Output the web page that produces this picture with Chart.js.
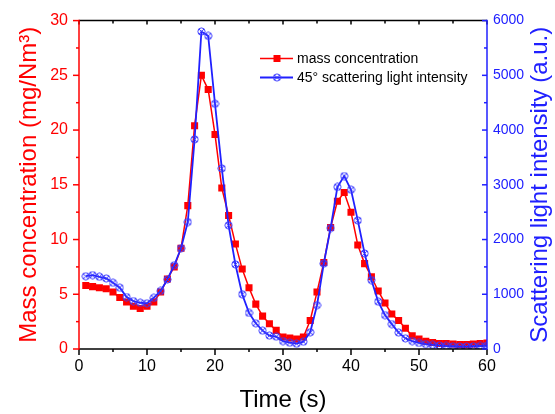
<!DOCTYPE html>
<html>
<head>
<meta charset="utf-8">
<script src="https://cdn.jsdelivr.net/npm/chart.js@4/dist/chart.umd.min.js"></script>
<style>
  html, body { margin: 0; padding: 0; background: #fff; }
</style>
</head>
<body>
<canvas id="chartMassLight" width="555" height="414"></canvas>
<script>
// ====================================
// DATA
// ====================================

const timeSec = [
  1, 2, 3, 4, 5, 6, 7, 8, 9, 10,
  11, 12, 13, 14, 15, 16, 17, 18, 19, 20,
  21, 22, 23, 24, 25, 26, 27, 28, 29, 30,
  31, 32, 33, 34, 35, 36, 37, 38, 39, 40,
  41, 42, 43, 44, 45, 46, 47, 48, 49, 50,
  51, 52, 53, 54, 55, 56, 57, 58, 59, 60
];

// mass concentration (mg/Nm3)
const massConc = [
  5.8, 5.7, 5.6, 5.5, 5.2, 4.7, 4.3, 3.9, 3.7, 3.9,
  4.3, 5.2, 6.4, 7.5, 9.2, 13.1, 20.4, 25.0, 23.7, 19.6,
  14.7, 12.2, 9.6, 7.3, 5.6, 4.1, 3.0, 2.3, 1.7, 1.1,
  1.0, 0.9, 1.1, 2.6, 5.2, 7.9, 11.1, 13.5, 14.3, 12.5,
  9.5, 7.8, 6.6, 5.3, 4.2, 3.2, 2.6, 1.9, 1.2, 0.9,
  0.7, 0.6, 0.5, 0.5, 0.45, 0.4, 0.4, 0.45, 0.5, 0.55
];

// 45 deg scattering light intensity (a.u.)
const lightInt = [
  1330, 1350, 1320, 1290, 1210, 1120, 950, 875, 845, 835,
  935, 1060, 1270, 1530, 1840, 2320, 3830, 5800, 5720, 4480,
  3300, 2260, 1545, 1000, 660, 470, 335, 245, 225, 145,
  115, 97, 133, 305, 800, 1560, 2210, 2960, 3160, 2910,
  2350, 1745, 1260, 865, 620, 455, 300, 195, 145, 110,
  90, 75, 65, 55, 50, 45, 45, 50, 55, 60
];

// TICKS
const xTicks = [0, 10, 20, 30, 40, 50, 60];
const xMinorTicks = [5, 15, 25, 35, 45, 55];
const massTicks = [0, 5, 10, 15, 20, 25, 30];
const massMinorTicks = [2.5, 7.5, 12.5, 17.5, 22.5, 27.5];
const lightTicks = [0, 1000, 2000, 3000, 4000, 5000, 6000];
const lightMinorTicks = [500, 1500, 2500, 3500, 4500, 5500];

const RED = "#ff0000";
const BLUE = "#2020ff";

// ====================================
// MARKER (circle with x)
// ====================================

function crossCircle() {
  const c = document.createElement("canvas");
  c.width = 9;
  c.height = 9;
  const g = c.getContext("2d");
  g.strokeStyle = "#3a3aff";
  g.lineWidth = 1;
  g.beginPath();
  g.arc(4.5, 4.5, 3.6, 0, Math.PI * 2);
  g.stroke();
  g.beginPath();
  g.moveTo(2, 2); g.lineTo(7, 7);
  g.moveTo(7, 2); g.lineTo(2, 7);
  g.stroke();
  return c;
}
const blueMarker = crossCircle();

// ====================================
// FRAME, TICKS, LEGEND, RIGHT TITLE
// ====================================

function seg(ctx, x1, y1, x2, y2) {
  ctx.beginPath();
  ctx.moveTo(x1, y1);
  ctx.lineTo(x2, y2);
  ctx.stroke();
}

const framePlugin = {
  id: "framePlugin",
  afterDatasetsDraw(chart) {
    const ctx = chart.ctx;
    const a = chart.chartArea;
    const sx = chart.scales.x;
    const sm = chart.scales.yMass;
    const sl = chart.scales.yLight;

    ctx.save();
    ctx.lineWidth = 1.5;
    ctx.lineCap = "butt";

    // top / bottom
    ctx.strokeStyle = "#000";
    seg(ctx, a.left, a.top, a.right, a.top);
    seg(ctx, a.left, a.bottom, a.right, a.bottom);
    xTicks.forEach(v => {
      const p = sx.getPixelForValue(v);
      seg(ctx, p, a.bottom, p, a.bottom + 6);
      seg(ctx, p, a.top, p, a.top + 4);
    });
    xMinorTicks.forEach(v => {
      const p = sx.getPixelForValue(v);
      seg(ctx, p, a.bottom, p, a.bottom + 3);
      seg(ctx, p, a.top, p, a.top + 3);
    });

    // left axis
    ctx.strokeStyle = RED;
    seg(ctx, a.left, a.top - 0.75, a.left, a.bottom + 0.75);
    massTicks.forEach(v => {
      const p = sm.getPixelForValue(v);
      seg(ctx, a.left, p, a.left - 6, p);
    });
    massMinorTicks.forEach(v => {
      const p = sm.getPixelForValue(v);
      seg(ctx, a.left, p, a.left - 3, p);
    });

    // right axis
    ctx.strokeStyle = BLUE;
    seg(ctx, a.right, a.top - 0.75, a.right, a.bottom + 0.75);
    lightTicks.forEach(v => {
      const p = sl.getPixelForValue(v);
      seg(ctx, a.right, p, a.right - 5, p);
    });
    lightMinorTicks.forEach(v => {
      const p = sl.getPixelForValue(v);
      seg(ctx, a.right, p, a.right - 3, p);
    });

    // legend
    ctx.strokeStyle = RED;
    seg(ctx, 260, 58.5, 293, 58.5);
    ctx.fillStyle = RED;
    ctx.fillRect(273.5, 55, 7, 7);
    ctx.strokeStyle = BLUE;
    ctx.lineWidth = 1.8;
    seg(ctx, 260, 77.5, 293, 77.5);
    ctx.drawImage(blueMarker, 272.5, 73);

    ctx.fillStyle = "#000";
    ctx.font = "14px 'Liberation Sans', Arial, sans-serif";
    ctx.textAlign = "left";
    ctx.textBaseline = "alphabetic";
    ctx.fillText("mass concentration", 297, 63);
    ctx.fillText("45° scattering light intensity", 297, 82);

    // right title (reads bottom to top)
    ctx.fillStyle = BLUE;
    ctx.font = "24px 'Liberation Sans', Arial, sans-serif";
    ctx.textAlign = "center";
    ctx.translate(547, (a.top + a.bottom) / 2);
    ctx.rotate(-Math.PI / 2);
    ctx.fillText("Scattering light intensity (a.u.)", 0, 0);

    ctx.restore();
  }
};

// ====================================
// CHART
// ====================================

const canvas = document.getElementById("chartMassLight");

new Chart(canvas, {
  type: "line",
  data: {
    labels: timeSec,
    datasets: [
      {
        label: "45° scattering light intensity",
        data: timeSec.map((t, i) => ({ x: t, y: lightInt[i] })),
        yAxisID: "yLight",
        borderColor: BLUE,
        borderWidth: 1.8,
        pointStyle: blueMarker,
        pointRadius: 4,
        tension: 0,
        order: 0
      },
      {
        label: "mass concentration",
        data: timeSec.map((t, i) => ({ x: t, y: massConc[i] })),
        yAxisID: "yMass",
        borderColor: RED,
        backgroundColor: RED,
        borderWidth: 1.5,
        pointStyle: "rect",
        pointRadius: 5,
        pointBorderWidth: 0,
        tension: 0,
        order: 1
      }
    ]
  },
  options: {
    responsive: false,
    animation: false,
    layout: {
      padding: { top: 20, left: 0, right: 0, bottom: 0 }
    },
    plugins: {
      legend: { display: false },
      tooltip: { enabled: false }
    },
    scales: {
      x: {
        type: "linear",
        position: "bottom",
        min: 0,
        max: 60,
        afterBuildTicks: s => { s.ticks = xTicks.map(v => ({ value: v })); },
        afterFit: s => { s.height = 65; },
        grid: { display: false, drawTicks: false },
        border: { display: false },
        ticks: {
          color: "#000",
          padding: 8,
          font: { family: "'Liberation Sans', Arial", size: 16 },
          callback: v => String(v)
        },
        title: {
          display: true,
          text: "Time (s)",
          color: "#000",
          padding: { top: 0, bottom: -1 },
          font: { family: "'Liberation Sans', Arial", size: 24 }
        }
      },
      yMass: {
        type: "linear",
        position: "left",
        min: 0,
        max: 30,
        afterBuildTicks: s => { s.ticks = massTicks.map(v => ({ value: v })); },
        afterFit: s => { s.width = 79; },
        grid: { display: false, drawTicks: false },
        border: { display: false },
        ticks: {
          color: RED,
          padding: 11,
          font: { family: "'Liberation Sans', Arial", size: 16 },
          callback: v => String(v)
        },
        title: {
          display: true,
          text: "Mass concentration (mg/Nm³)",
          color: RED,
          padding: { top: 15, bottom: 0 },
          font: { family: "'Liberation Sans', Arial", size: 24 }
        }
      },
      yLight: {
        type: "linear",
        position: "right",
        min: 0,
        max: 6000,
        afterBuildTicks: s => { s.ticks = lightTicks.map(v => ({ value: v })); },
        afterFit: s => { s.width = 68; },
        grid: { display: false, drawTicks: false },
        border: { display: false },
        ticks: {
          color: BLUE,
          padding: 6,
          font: { family: "'Liberation Sans', Arial", size: 14 },
          callback: v => String(v)
        }
      }
    }
  },
  plugins: [framePlugin]
});
</script>
</body>
</html>
